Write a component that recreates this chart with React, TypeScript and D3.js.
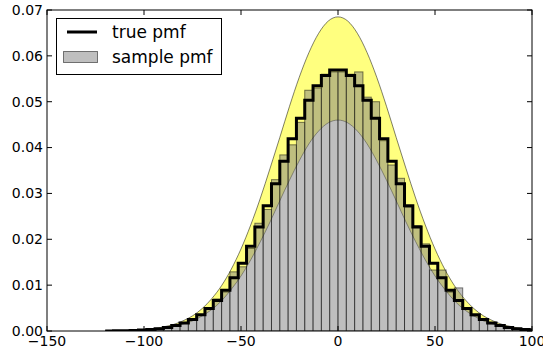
import * as d3 from 'd3'

// histogram bins: left edge of the first bin and the bin width
const firstBinStart = -120
const binWidth = 30 / 7

// true pmf, one value per bin (k = -28 .. 23)
const truePmf = [
  0.000025, 0.000044, 0.000075, 0.000125, 0.000204, 0.00033, 0.00051, 0.00078,
  0.00118, 0.00173, 0.0025, 0.00354, 0.00491, 0.00667, 0.00887, 0.0116,
  0.0148, 0.0185, 0.0227, 0.0273, 0.0321, 0.037, 0.0419, 0.0464,
  0.0503, 0.0535, 0.0557, 0.0569, 0.0569, 0.0557, 0.0535, 0.0503,
  0.0464, 0.0419, 0.037, 0.0321, 0.0273, 0.0227, 0.0185, 0.0148,
  0.0116, 0.00887, 0.00667, 0.00491, 0.00354, 0.0025, 0.00173, 0.00118,
  0.00078, 0.00051, 0.00033, 0.000204,
]

// sample pmf, same bins
const samplePmf = [
  0, 0.00005, 0.0001, 0.0001, 0.0002, 0.0003, 0.0005, 0.0008,
  0.0012, 0.0018, 0.0026, 0.0034, 0.005, 0.007, 0.0085, 0.0129,
  0.014, 0.018, 0.0235, 0.0265, 0.033, 0.0384, 0.0406, 0.0455,
  0.0525, 0.053, 0.056, 0.0565, 0.0565, 0.056, 0.0565, 0.051,
  0.05, 0.0415, 0.0362, 0.0333, 0.027, 0.023, 0.019, 0.0133,
  0.0133, 0.0085, 0.0094, 0.005, 0.0033, 0.0025, 0.0016, 0.0011,
  0.0008, 0.0004, 0.0003, 0.0002,
]

// band around the true pmf
const bandX = [
  -120, -115, -110, -105, -100, -95, -90, -85, -80, -75, -70, -65, -60, -55, -50,
  -45, -40, -35, -30, -25, -20, -15, -10, -5, 0, 5, 10, 15, 20, 25, 30, 35, 40,
  45, 50, 55, 60, 65, 70, 75, 80, 85, 90, 95, 100,
]
const bandUpper = [
  0.00003, 0.000056, 0.0001, 0.00018, 0.0003, 0.0005, 0.0009, 0.0014, 0.0022,
  0.0033, 0.0049, 0.0071, 0.0099, 0.0135, 0.0179, 0.0231, 0.029, 0.0355, 0.0422,
  0.049, 0.0553, 0.0607, 0.0649, 0.0676, 0.0685, 0.0676, 0.0649, 0.0607, 0.0553,
  0.049, 0.0422, 0.0355, 0.029, 0.0231, 0.0179, 0.0135, 0.0099, 0.0071, 0.0049,
  0.0033, 0.0022, 0.0014, 0.0009, 0.0005, 0.0003,
]
const bandLower = [
  0.00002, 0.00004, 0.00007, 0.00012, 0.0002, 0.0004, 0.0006, 0.0009, 0.0015,
  0.0022, 0.0033, 0.0047, 0.0066, 0.0091, 0.012, 0.0155, 0.0195, 0.0238, 0.0284,
  0.0329, 0.0371, 0.0408, 0.0436, 0.0454, 0.046, 0.0454, 0.0436, 0.0408, 0.0371,
  0.0329, 0.0284, 0.0238, 0.0195, 0.0155, 0.012, 0.0091, 0.0066, 0.0047, 0.0033,
  0.0022, 0.0015, 0.0009, 0.0006, 0.0004, 0.0002,
]

const xTicks = [-150, -100, -50, 0, 50, 100]
const yTicks = [0, 0.01, 0.02, 0.03, 0.04, 0.05, 0.06, 0.07]
const legendLabels = ['true pmf', 'sample pmf']

const width = 543
const height = 353
const margin = { top: 10, right: 11, bottom: 22, left: 47 }
const font = "'DejaVu Sans', sans-serif"

export default function App() {
  const x = d3.scaleLinear().domain([-150, 100]).range([margin.left, width - margin.right])
  const y = d3.scaleLinear().domain([0, 0.07]).range([height - margin.bottom, margin.top])

  const bins = truePmf.map((t, i) => ({
    x0: firstBinStart + i * binWidth,
    x1: firstBinStart + (i + 1) * binWidth,
    t,
    s: samplePmf[i],
  }))

  const band = bandX.map((bx, i) => ({ x: bx, lo: bandLower[i], hi: bandUpper[i] }))
  const area = d3
    .area<{ x: number; lo: number; hi: number }>()
    .x(d => x(d.x))
    .y0(d => y(d.lo))
    .y1(d => y(d.hi))
    .curve(d3.curveMonotoneX)
  const upperLine = d3
    .line<{ x: number; lo: number; hi: number }>()
    .x(d => x(d.x))
    .y(d => y(d.hi))
    .curve(d3.curveMonotoneX)
  const lowerLine = d3
    .line<{ x: number; lo: number; hi: number }>()
    .x(d => x(d.x))
    .y(d => y(d.lo))
    .curve(d3.curveMonotoneX)

  // step path of the true pmf
  const stepPts: [number, number][] = []
  bins.forEach(b => {
    stepPts.push([x(b.x0), y(b.t)])
    stepPts.push([x(b.x1), y(b.t)])
  })
  const stepPath = d3.line()(stepPts)

  const x0 = margin.left
  const x1 = width - margin.right
  const y0 = height - margin.bottom
  const y1 = margin.top
  const tickLen = 5

  const fmtY = d3.format('.2f')
  const fmtX = (v: number) => (v < 0 ? '\u2212' + Math.abs(v) : String(v))

  return (
    <>
      <style>{`body{margin:0}`}</style>
      <svg width={width} height={height} style={{ display: 'block', background: 'white' }}>
        <defs>
          <clipPath id="plot">
            <rect x={x0} y={y1} width={x1 - x0} height={y0 - y1} />
          </clipPath>
        </defs>

        <g clipPath="url(#plot)">
          <path d={area(band) ?? ''} fill="#ffff00" fillOpacity={0.5} />
          <path d={upperLine(band) ?? ''} fill="none" stroke="#000" strokeOpacity={0.5} strokeWidth={1} />
          <path d={lowerLine(band) ?? ''} fill="none" stroke="#000" strokeOpacity={0.5} strokeWidth={1} />

          <g>
            {bins.map((b, i) => (
              <rect
                key={i}
                x={x(b.x0)}
                y={y(b.s)}
                width={x(b.x1) - x(b.x0)}
                height={y(0) - y(b.s)}
                fill="#808080"
                fillOpacity={0.5}
                stroke="#000"
                strokeOpacity={0.5}
                strokeWidth={1}
              />
            ))}
          </g>

          <path d={stepPath ?? ''} fill="none" stroke="#000" strokeWidth={3} strokeLinejoin="miter" />
        </g>

        {/* frame */}
        <rect x={x0} y={y1} width={x1 - x0} height={y0 - y1} fill="none" stroke="#000" strokeWidth={1} />

        {/* x ticks */}
        {xTicks.map(t => (
          <g key={t}>
            <line x1={x(t)} x2={x(t)} y1={y0} y2={y0 - tickLen} stroke="#000" />
            <line x1={x(t)} x2={x(t)} y1={y1} y2={y1 + tickLen} stroke="#000" />
            <text x={x(t)} y={y0 + 15} textAnchor="middle" fontFamily={font} fontSize={14}>
              {fmtX(t)}
            </text>
          </g>
        ))}

        {/* y ticks */}
        {yTicks.map(t => (
          <g key={t}>
            <line x1={x0} x2={x0 + tickLen} y1={y(t)} y2={y(t)} stroke="#000" />
            <line x1={x1} x2={x1 - tickLen} y1={y(t)} y2={y(t)} stroke="#000" />
            <text x={x0 - 4} y={y(t)} dy="0.35em" textAnchor="end" fontFamily={font} fontSize={14}>
              {fmtY(t)}
            </text>
          </g>
        ))}

        {/* legend */}
        <g>
          <rect x={56.5} y={18.5} width={165} height={56} fill="white" stroke="#000" strokeWidth={1} />
          <line x1={67} x2={97} y1={32} y2={32} stroke="#000" strokeWidth={3} />
          <rect x={63.5} y={51.5} width={34} height={11} fill="#808080" fillOpacity={0.5} stroke="#000" strokeOpacity={0.5} />
          <text x={112} y={32} dy="0.35em" fontFamily={font} fontSize={17}>
            {legendLabels[0]}
          </text>
          <text x={112} y={57} dy="0.35em" fontFamily={font} fontSize={17}>
            {legendLabels[1]}
          </text>
        </g>
      </svg>
    </>
  )
}
